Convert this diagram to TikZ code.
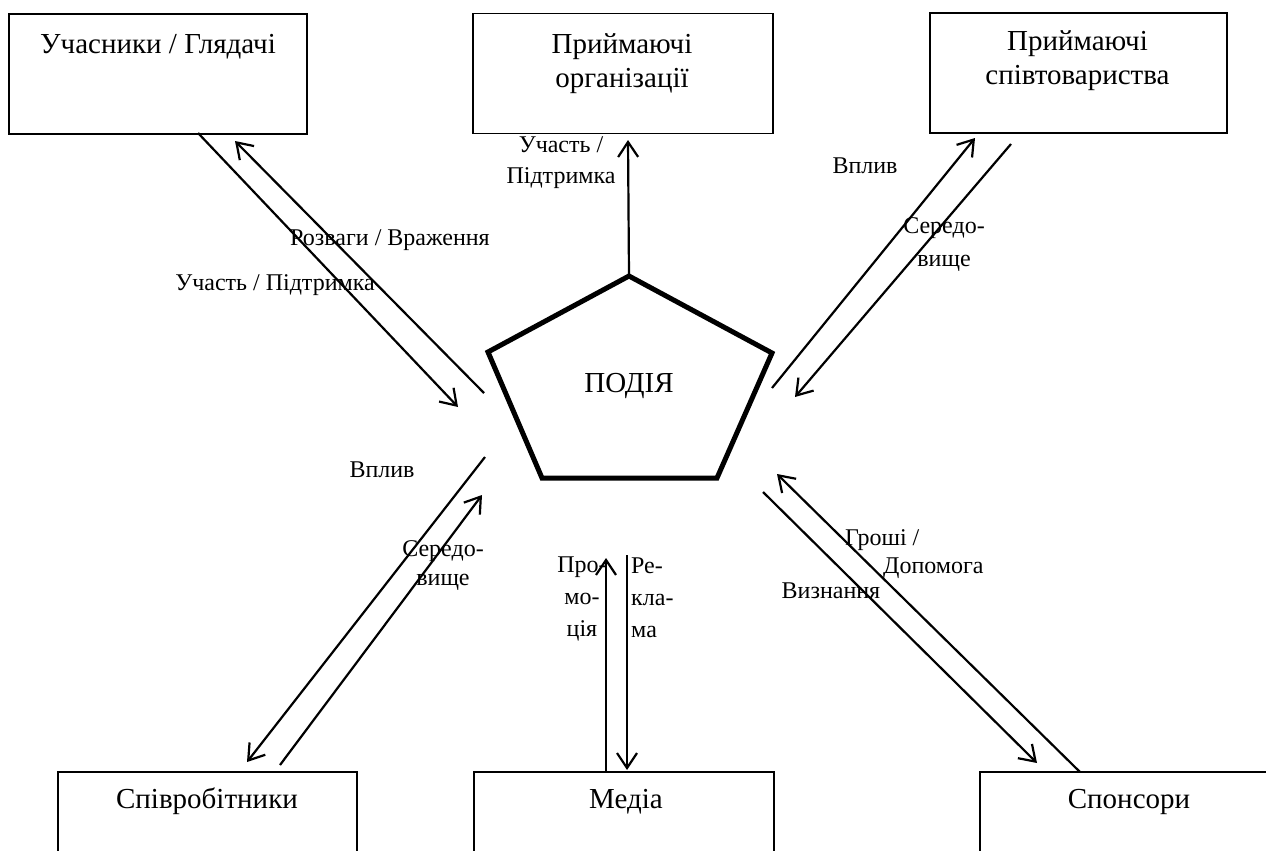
\documentclass[tikz,border=0pt]{standalone}
\usepackage{fontspec}
\setmainfont{Liberation Serif}
\usetikzlibrary{arrows.meta}
\tikzset{
  box/.style={draw, line width=1.2pt, minimum width=#1, minimum height=120pt, inner sep=0pt},
  ttl/.style={font=\fontsize{29}{34}\selectfont, inner sep=0pt, anchor=base},
  lab/.style={font=\fontsize{24}{33}\selectfont, inner sep=0pt, anchor=base},
  conn/.style={line width=2.2pt, -{Straight Barb[length=15pt,width=20pt]}},
  event/.style={line width=5pt, line join=miter}
}
\begin{document}
\begin{tikzpicture}[x=1pt,y=-1pt]
\useasboundingbox (0,0) rectangle (1266,851);
\clip (0,0) rectangle (1266,851);

% boxes
\node[box=298pt] (ua) at (158,74) {};
\node[box=300pt] (po) at (623,73.5) {};
\node[box=297pt] (ps) at (1078.5,73) {};
\node[box=299pt] (sp) at (207.5,832) {};
\node[box=300pt] (me) at (624,832) {};
\node[box=299pt] (sn) at (1129.5,832) {};

% box titles
\node[ttl] (uat) at (158,54) {Учасники / Глядачі};
\node[ttl] (pot) at (622,53) {\begin{tabular}[t]{@{}c@{}}Приймаючі\\організації\end{tabular}};
\node[ttl] (pst) at (1077.5,51) {\begin{tabular}[t]{@{}c@{}}Приймаючі\\співтовариства\end{tabular}};
\node[ttl] (spt) at (207,808) {Співробітники};
\node[ttl] (met) at (626,808) {Медіа};
\node[ttl] (snt) at (1129,808) {Спонсори};

% event pentagon
\coordinate (p1) at (629,276);
\coordinate (p2) at (772,353);
\coordinate (p3) at (717,478);
\coordinate (p4) at (542,478);
\coordinate (p5) at (488,352);
\draw[event] (p1) -- (p2) -- (p3) -- (p4) -- (p5) -- cycle;
\node[ttl] (ev) at (629,392) {ПОДІЯ};

% labels
\node[lab] (l1) at (390,245) {Розваги / Враження};
\node[lab] (l2) at (275,290) {Участь / Підтримка};
\node[lab, font=\fontsize{24}{31}\selectfont] (l3) at (561,152) {\begin{tabular}[t]{@{}c@{}}Участь /\\Підтримка\end{tabular}};
\node[lab] (l4) at (865,173) {Вплив};
\node[lab] (l5) at (944,233) {\begin{tabular}[t]{@{}c@{}}Середо-\\вище\end{tabular}};
\node[lab] (l6) at (382,477) {Вплив};
\node[lab, font=\fontsize{24}{29}\selectfont] (l7) at (443,556) {\begin{tabular}[t]{@{}c@{}}Середо-\\вище\end{tabular}};
\node[lab, font=\fontsize{24}{32}\selectfont] (l8) at (582,572) {\begin{tabular}[t]{@{}c@{}}Про-\\мо-\\ція\end{tabular}};
\node[lab, anchor=base west, font=\fontsize{24}{32}\selectfont] (l9) at (631,573) {\begin{tabular}[t]{@{}l@{}}Ре-\\кла-\\ма\end{tabular}};
\node[lab, anchor=base west, font=\fontsize{24}{28}\selectfont] (l10) at (845,545) {\begin{tabular}[t]{@{}l@{}}Гроші /\\\hspace*{38pt}Допомога\end{tabular}};
\node[lab] (l11) at (831,598) {Визнання};

% connector end points
\coordinate (a1s) at (198,133);  \coordinate (a1e) at (458,407);
\coordinate (a2s) at (484,393);  \coordinate (a2e) at (235,141);
\coordinate (a3e) at (628,140);
\coordinate (a4s) at (772,388);  \coordinate (a4e) at (975,138);
\coordinate (a5s) at (1011,144); \coordinate (a5e) at (795,397);
\coordinate (a6s) at (485,457);  \coordinate (a6e) at (247,762);
\coordinate (a7s) at (280,765);  \coordinate (a7e) at (482,495);
\coordinate (a8s) at (606,771);  \coordinate (a8e) at (606,558);
\coordinate (a9s) at (627,555);  \coordinate (a9e) at (627,770);
\coordinate (a10s) at (1080,772); \coordinate (a10e) at (777,474);
\coordinate (a11s) at (763,492);  \coordinate (a11e) at (1037,763);

% connectors
\draw[conn] (a1s) -- (a1e);
\draw[conn] (a2s) -- (a2e);
\draw[conn] (p1) -- (a3e);
\draw[conn] (a4s) -- (a4e);
\draw[conn] (a5s) -- (a5e);
\draw[conn] (a6s) -- (a6e);
\draw[conn] (a7s) -- (a7e);
\draw[conn] (a8s) -- (a8e);
\draw[conn] (a9s) -- (a9e);
\draw[conn] (a10s) -- (a10e);
\draw[conn] (a11s) -- (a11e);
\end{tikzpicture}
\end{document}
